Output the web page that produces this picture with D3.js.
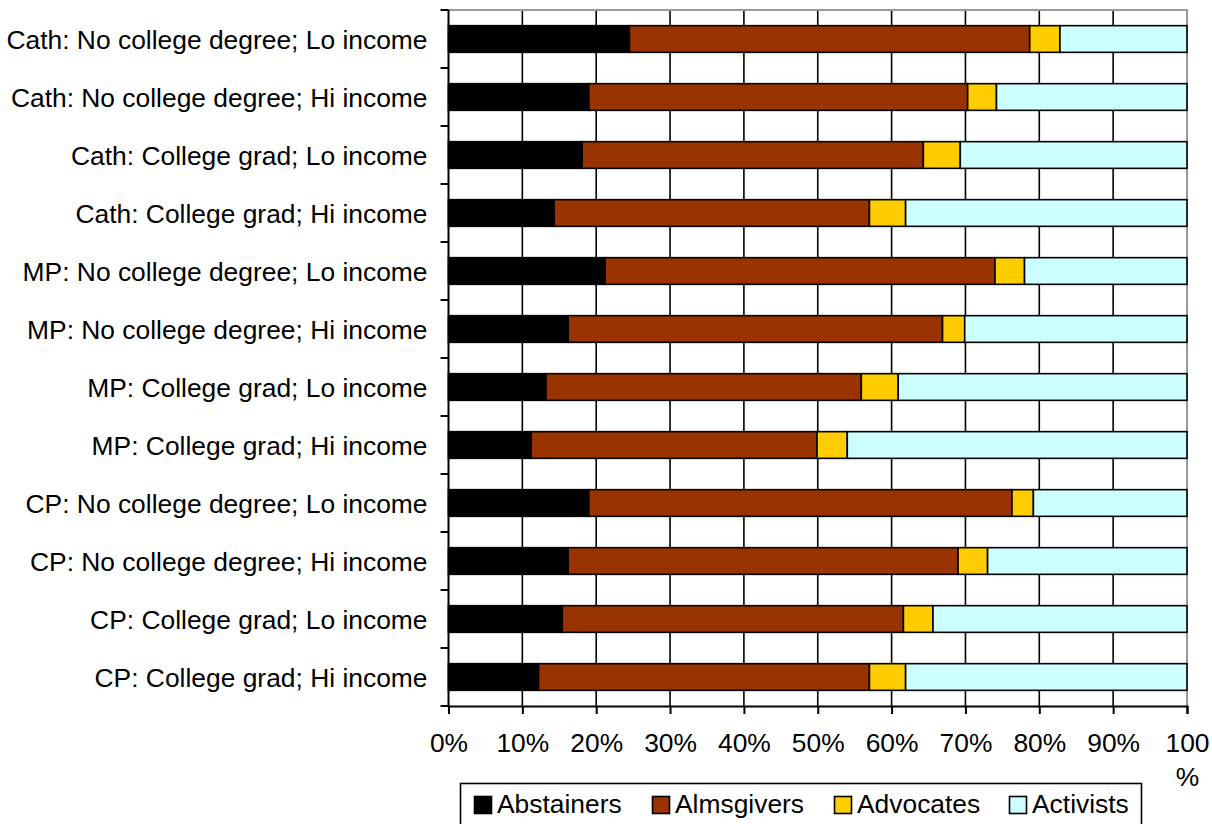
<!DOCTYPE html>
<html>
<head>
<meta charset="utf-8">
<script src="https://cdn.jsdelivr.net/npm/d3@7"></script>
<style>
    body { margin: 0; background: white; }
    text { font-family: 'Liberation Sans', Arial, sans-serif; }
</style>
</head>
<body>
<div id="chart"></div>
<script>
const categories = [
    'Cath: No college degree; Lo income',
    'Cath: No college degree; Hi income',
    'Cath: College grad; Lo income',
    'Cath: College grad; Hi income',
    'MP: No college degree; Lo income',
    'MP: No college degree; Hi income',
    'MP: College grad; Lo income',
    'MP: College grad; Hi income',
    'CP: No college degree; Lo income',
    'CP: No college degree; Hi income',
    'CP: College grad; Lo income',
    'CP: College grad; Hi income'
]
const seriesNames = ['Abstainers', 'Almsgivers', 'Advocates', 'Activists']
const abstainers = [24.5, 19.0, 18.1, 14.3, 21.2, 16.2, 13.2, 11.2, 19.0, 16.2, 15.4, 12.2]
const almsgivers = [54.2, 51.3, 46.2, 42.7, 52.8, 50.7, 42.7, 38.7, 57.3, 52.8, 46.2, 44.8]
const advocates = [4.1, 3.9, 5.0, 4.9, 4.0, 3.0, 5.0, 4.1, 2.9, 4.0, 4.0, 4.9]
const activists = [17.2, 25.8, 30.7, 38.1, 22.0, 30.1, 39.1, 46.0, 20.8, 27.0, 34.4, 38.1]
const xTicks = [0, 0.1, 0.2, 0.3, 0.4, 0.5, 0.6, 0.7, 0.8, 0.9, 1]

const WIDTH = 1212
const HEIGHT = 824
const FONT = 26.4
const margin = { left: 448.5, right: 25, top: 10, bottom: 118 }

const colours = d3.scaleOrdinal()
    .domain(seriesNames)
    .range(['#000000', '#993300', '#FFCC00', '#CCFFFF'])

const data = categories.map((c, i) => {
    const total = abstainers[i] + almsgivers[i] + advocates[i] + activists[i]
    return {
        group: c,
        Abstainers: abstainers[i] / total,
        Almsgivers: almsgivers[i] / total,
        Advocates: advocates[i] / total,
        Activists: activists[i] / total
    }
})

const svg = d3.select('#chart')
    .append('svg')
    .attr('width', WIDTH)
    .attr('height', HEIGHT)

const xScale = d3.scaleLinear()
    .domain([0, 1])
    .range([margin.left, WIDTH - margin.right])

const yScale = d3.scaleBand()
    .domain(categories)
    .range([margin.top, HEIGHT - margin.bottom])
    .paddingInner(0.54)
    .paddingOuter(0.27)

// vertical gridlines
svg.append('g')
    .selectAll('line')
    .data(xTicks.slice(1, -1))
    .join('line')
    .attr('x1', d => xScale(d))
    .attr('x2', d => xScale(d))
    .attr('y1', margin.top)
    .attr('y2', HEIGHT - margin.bottom)
    .attr('stroke', '#000')
    .attr('stroke-width', 1.6)

// plot border top / right in grey
svg.append('path')
    .attr('d', `M${margin.left},${margin.top}H${xScale(1)}V${HEIGHT - margin.bottom}`)
    .attr('fill', 'none')
    .attr('stroke', '#999')
    .attr('stroke-width', 2)

const stackedData = d3.stack()
    .keys(seriesNames)
    (data)

svg.selectAll('.series')
    .data(stackedData)
    .join('g')
    .attr('class', 'series')
    .attr('fill', d => colours(d.key))
    .selectAll('rect')
    .data(d => d)
    .join('rect')
    .attr('x', d => xScale(d[0]))
    .attr('y', d => yScale(d.data.group))
    .attr('width', d => xScale(d[1]) - xScale(d[0]))
    .attr('height', yScale.bandwidth())
    .attr('stroke', '#000')
    .attr('stroke-width', 1.6)

// y axis: ticks on band boundaries
const step = yScale.step()
const yAxis = svg.append('g')
yAxis.append('line')
    .attr('x1', margin.left).attr('x2', margin.left)
    .attr('y1', margin.top).attr('y2', HEIGHT - margin.bottom)
    .attr('stroke', '#000').attr('stroke-width', 2)
yAxis.selectAll('.ytick')
    .data(d3.range(categories.length + 1))
    .join('line')
    .attr('class', 'ytick')
    .attr('x1', margin.left - 8).attr('x2', margin.left)
    .attr('y1', i => margin.top + i * step)
    .attr('y2', i => margin.top + i * step)
    .attr('stroke', '#000').attr('stroke-width', 2)
yAxis.selectAll('.ylabel')
    .data(categories)
    .join('text')
    .attr('class', 'ylabel')
    .attr('x', margin.left - 21)
    .attr('y', d => yScale(d) + yScale.bandwidth() / 2 + 10)
    .attr('text-anchor', 'end')
    .attr('font-size', FONT)
    .attr('fill', '#000')
    .text(d => d)

// x axis
const xAxis = svg.append('g')
    .attr('transform', `translate(0, ${HEIGHT - margin.bottom})`)
    .call(d3.axisBottom(xScale)
        .tickValues(xTicks)
        .tickFormat(d3.format('.0%'))
        .tickSize(8)
        .tickPadding(19))
xAxis.select('.domain').attr('stroke', '#000').attr('stroke-width', 2)
xAxis.selectAll('.tick line').attr('stroke', '#000').attr('stroke-width', 2)
xAxis.selectAll('.tick text')
    .attr('font-size', FONT)
    .attr('font-family', "'Liberation Sans', Arial, sans-serif")
    .attr('fill', '#000')
xAxis.selectAll('.tick text')
    .filter(d => d === 1)
    .text(null)
    .call(t => {
        t.append('tspan').attr('x', 0).text('100')
        t.append('tspan').attr('x', 0).attr('dy', 34).text('%')
    })

// legend
const legend = svg.append('g')
legend.append('rect')
    .attr('x', 460.5).attr('y', 783.5)
    .attr('width', 681).attr('height', 46)
    .attr('fill', 'white')
    .attr('stroke', '#000').attr('stroke-width', 1.6)
const legendX = [474, 652, 834, 1009]
const item = legend.selectAll('.item')
    .data(seriesNames)
    .join('g')
    .attr('class', 'item')
    .attr('transform', (d, i) => `translate(${legendX[i]}, 796)`)
item.append('rect')
    .attr('x', 0.5).attr('y', 0.5)
    .attr('width', 17).attr('height', 17)
    .attr('fill', d => colours(d))
    .attr('stroke', '#000').attr('stroke-width', 1.6)
item.append('text')
    .attr('x', 23)
    .attr('y', 17)
    .attr('font-size', FONT)
    .attr('fill', '#000')
    .text(d => d)
</script>
</body>
</html>
